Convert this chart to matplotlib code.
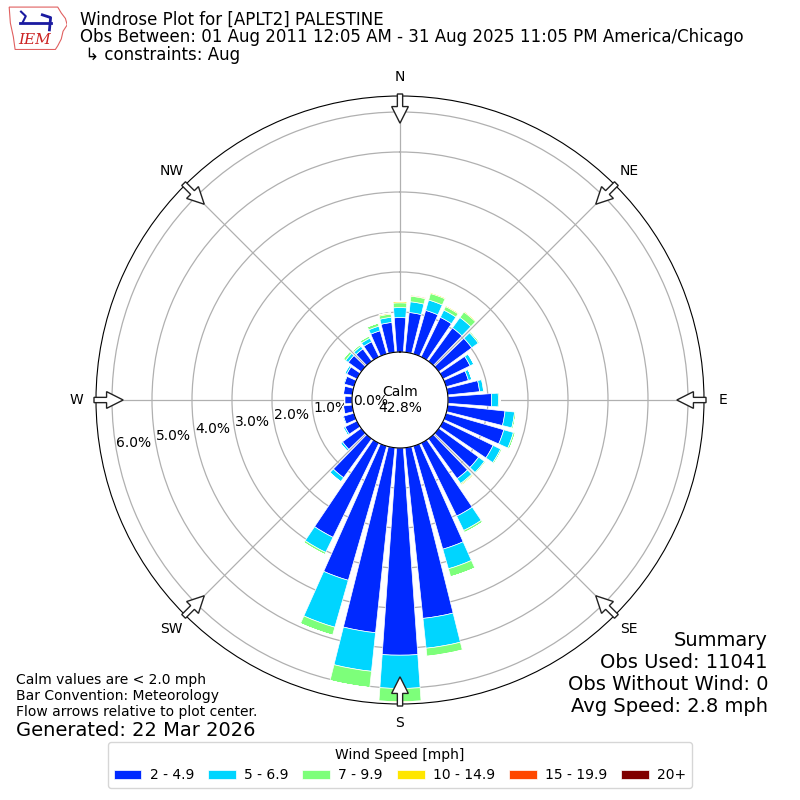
import numpy as np
import matplotlib
matplotlib.use("Agg")
import matplotlib.pyplot as plt
from matplotlib.patches import FancyArrow, Polygon

# direction bins (deg, where wind blows from)
directions = np.arange(0, 360, 10)
speed_bins = ['2 - 4.9', '5 - 6.9', '7 - 9.9', '10 - 14.9', '15 - 19.9', '20+']

# frequency in percent for each speed bin, per direction (0, 10, ..., 350)
spd_2_5 = [0.86, 1.00, 1.13, 1.10, 1.03, 1.02, 0.75, 0.58, 0.80, 1.09,
           1.44, 1.50, 1.39, 1.23, 1.23, 2.03, 2.68, 4.29, 5.18, 4.65,
           3.49, 2.62, 1.20, 0.58, 0.33, 0.27, 0.22, 0.18, 0.22, 0.25,
           0.28, 0.40, 0.38, 0.42, 0.60, 0.75]
spd_5_7 = [0.25, 0.27, 0.27, 0.20, 0.32, 0.20, 0.10, 0.09, 0.10, 0.17,
           0.24, 0.25, 0.21, 0.18, 0.15, 0.40, 0.51, 0.75, 0.83, 0.97,
           1.22, 0.42, 0.12, 0.06, 0.05, 0.03, 0.02, 0.01, 0.02, 0.03,
           0.05, 0.08, 0.08, 0.10, 0.12, 0.13]
spd_7_10 = [0.12, 0.14, 0.17, 0.10, 0.17, 0.04, 0.01, 0.00, 0.02, 0.04,
            0.04, 0.05, 0.04, 0.03, 0.03, 0.06, 0.21, 0.20, 0.33, 0.41,
            0.21, 0.06, 0.01, 0.00, 0.00, 0.00, 0.00, 0.00, 0.00, 0.00,
            0.01, 0.07, 0.05, 0.06, 0.08, 0.08]
spd_10_15 = [0.04, 0.02, 0.03, 0.03, 0.03, 0.00, 0.00, 0.00, 0.00, 0.00,
             0.00, 0.00, 0.00, 0.01, 0.03, 0.00, 0.00, 0.01, 0.02, 0.00,
             0.00, 0.00, 0.00, 0.00, 0.00, 0.00, 0.00, 0.00, 0.00, 0.00,
             0.00, 0.00, 0.00, 0.00, 0.00, 0.03]
spd_15_20 = [0.00, 0.02, 0.00, 0.00, 0.00, 0.00, 0.00, 0.00, 0.00, 0.00,
             0.00, 0.00, 0.00, 0.00, 0.00, 0.00, 0.00, 0.00, 0.00, 0.00,
             0.00, 0.00, 0.00, 0.00, 0.00, 0.00, 0.00, 0.00, 0.00, 0.00,
             0.00, 0.00, 0.00, 0.00, 0.00, 0.00]
spd_20 = [0.0] * 36
all_bins = [spd_2_5, spd_5_7, spd_7_10, spd_10_15, spd_15_20, spd_20]

ring_vals = [0, 1, 2, 3, 4, 5, 6]
ring_labels = ['%.1f%%' % v for v in ring_vals]
compass = ['N', 'NE', 'E', 'SE', 'S', 'SW', 'W', 'NW']
calm_pct = 42.8

colors = plt.cm.jet(np.linspace(1 / 6, 1, 6))

fig = plt.figure(figsize=(8, 8), dpi=100)
ax = fig.add_axes([0.12, 0.12, 0.76, 0.76], projection='polar')
ax.set_theta_zero_location('N')
ax.set_theta_direction(-1)
ax.set_rorigin(-1.2)
ax.set_ylim(0, 6.4)

theta = np.deg2rad(directions)
width = np.deg2rad(8)
bottom = np.zeros(len(directions))
handles = []
for vals, c in zip(all_bins, colors):
    vals = np.array(vals)
    b = ax.bar(theta, vals, width=width, bottom=bottom, color=c,
               edgecolor='white', linewidth=0.5, zorder=2)
    handles.append(b)
    bottom += vals

ax.set_yticks(ring_vals)
ax.set_yticklabels(ring_labels, fontsize=10)
ax.set_rlabel_position(260)
ax.set_xticks(np.deg2rad(np.arange(0, 360, 45)))
ax.set_xticklabels(compass, fontsize=10)
ax.tick_params(axis='x', pad=3.5)
ax.grid(True, color='#b0b0b0', lw=0.9)
ax.set_axisbelow(True)

ax.text(0.5, 0.5, 'Calm\n%.1f%%' % calm_pct, transform=ax.transAxes,
        ha='center', va='center', fontsize=10, zorder=5)

# flow arrows at the rim
for d in np.deg2rad(np.arange(0, 360, 45)):
    ux, uy = np.sin(d), np.cos(d)
    r0 = 0.5033
    ln = 0.048
    arr = FancyArrow(0.5 + r0 * ux, 0.5 + r0 * uy, -ln * ux, -ln * uy,
                     width=0.0087, head_width=0.0275, head_length=0.0273,
                     length_includes_head=True, transform=ax.transAxes,
                     fc='white', ec='#222222', lw=1, zorder=6, clip_on=False)
    ax.add_patch(arr)

# titles
fig.text(0.1, 0.975, 'Windrose Plot for [APLT2] PALESTINE', fontsize=12, va='center')
fig.text(0.1, 0.954, 'Obs Between: 01 Aug 2011 12:05 AM - 31 Aug 2025 11:05 PM America/Chicago',
         fontsize=12, va='center')
fig.text(0.1, 0.931, ' \u21b3 constraints: Aug', fontsize=12, va='center')

# summary block
summary = ['Summary', 'Obs Used: 11041', 'Obs Without Wind: 0', 'Avg Speed: 2.8 mph']
for i, s in enumerate(summary):
    fig.text(0.96, 0.2 - i * 0.0275, s, fontsize=14, ha='right', va='center')

notes = ['Calm values are < 2.0 mph', 'Bar Convention: Meteorology',
         'Flow arrows relative to plot center.']
for i, s in enumerate(notes):
    fig.text(0.02, 0.15 - i * 0.02, s, fontsize=10, va='center')
fig.text(0.02, 0.0875, 'Generated: 22 Mar 2026', fontsize=14, va='center')

fig.legend(handles, speed_bins, loc='lower center', bbox_to_anchor=(0.5, 0.015),
           borderaxespad=0, ncol=6, title='Wind Speed [mph]', fontsize=10,
           title_fontsize=10, columnspacing=1.0, handletextpad=0.6)

# rough IEM logo
lax = fig.add_axes([0.01, 0.937, 0.074, 0.057])
lax.set_xlim(0, 1)
lax.set_ylim(0, 1)
lax.axis('off')
outline = [(0.02, 0.95), (0.84, 0.95), (0.9, 0.82), (0.97, 0.7), (1.0, 0.56),
           (0.93, 0.42), (0.9, 0.25), (0.84, 0.1), (0.8, 0.02), (0.12, 0.02),
           (0.09, 0.3), (0.04, 0.6)]
lax.add_patch(Polygon(outline, closed=True, fill=False, ec='#e06060', lw=0.8))
lax.plot([0.2, 0.72], [0.6, 0.6], color='#1a1aa0', lw=2)
lax.plot([0.22, 0.3, 0.25], [0.85, 0.75, 0.62], color='#1a1aa0', lw=1.5)
lax.plot([0.58, 0.72, 0.7], [0.78, 0.72, 0.45], color='#1a1aa0', lw=2)
lax.text(0.45, 0.22, 'IEM', color='#cc2222', fontsize=11, family='DejaVu Serif',
         style='italic', ha='center', va='center')

fig.savefig('out.png', dpi=100)
